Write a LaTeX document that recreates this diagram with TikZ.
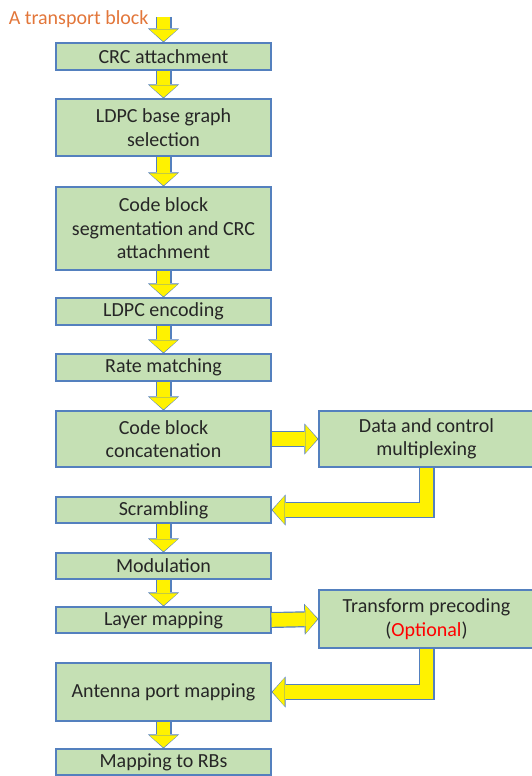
\documentclass[tikz,border=0pt]{standalone}
\usepackage{fontspec}
\setmainfont{Carlito}
\usetikzlibrary{arrows.meta}
\definecolor{boxgreen}{HTML}{C5E0B4}
\definecolor{boxblue}{HTML}{5480BE}
\definecolor{optred}{HTML}{FF0000}
\definecolor{tborange}{HTML}{E2763A}
\definecolor{txt}{HTML}{262626}

\begin{document}
\begin{tikzpicture}[x=1pt,y=-1pt,
  every node/.style={font=\fontsize{20}{23.5}\selectfont, text=txt},
  stage/.style={draw=boxblue, fill=boxgreen, line width=1.1pt, minimum width=215pt,
    align=center, inner sep=0pt},
  fat/.style={preaction={draw=boxblue, line width=16pt, shorten >=0pt,
      -{Triangle[width=31pt,length=14pt,line width=0pt]}},
    draw=yellow, line width=13.6pt, shorten >=1pt,
    -{Triangle[width=28pt,length=12pt,line width=0pt]}}]
\useasboundingbox (0,0) rectangle (531,776);
% left column
\node[anchor=base east, text=tborange] (tb) at (152,25) {A transport block};
\coordinate (tbin) at (163.5,17);
\node[stage, minimum height=27pt] (crc) at (163.5,56.5) {CRC attachment};
\node[stage, minimum height=57pt] (bgs) at (163.5,127.5) {LDPC base graph\\selection};
\node[stage, minimum height=83pt] (seg) at (163.5,228.5) {Code block\\segmentation and CRC\\attachment};
\node[stage, minimum height=27pt] (enc) at (163.5,311.5) {LDPC encoding};
\node[stage, minimum height=27pt] (rm) at (163.5,367.5) {Rate matching};
\node[stage, minimum height=56pt] (cat) at (163.5,439) {Code block\\concatenation};
\node[stage, minimum height=26pt] (scr) at (163.5,510) {Scrambling};
\node[stage, minimum height=26pt] (mod) at (163.5,566) {Modulation};
\node[stage, minimum height=26pt] (lay) at (163.5,620) {Layer mapping};
\node[stage, minimum height=58pt] (ant) at (163.5,692) {Antenna port mapping};
\node[stage, minimum height=26pt] (rb) at (163.5,762) {Mapping to RBs};
% right column
\node[stage, minimum height=56pt] (mux) at (426.5,439) {Data and control\\multiplexing};
\node[stage, minimum height=58pt] (tp) at (426.5,619) {Transform precoding\\(\textcolor{optred}{Optional})};
% arrows
\draw[fat] (tbin) -- (crc.north);
\draw[fat] (crc.south) -- (bgs.north);
\draw[fat] (bgs.south) -- (seg.north);
\draw[fat] (seg.south) -- (enc.north);
\draw[fat] (enc.south) -- (rm.north);
\draw[fat] (rm.south) -- (cat.north);
\draw[fat] (cat.east) -- (mux.west);
\draw[fat] (mux.south) |- (scr.east);
\draw[fat] (scr.south) -- (mod.north);
\draw[fat] (mod.south) -- (lay.north);
\draw[fat] (lay.east) -- (tp.west);
\draw[fat] (tp.south) |- (ant.east);
\draw[fat] (ant.south) -- (rb.north);
\end{tikzpicture}
\end{document}
